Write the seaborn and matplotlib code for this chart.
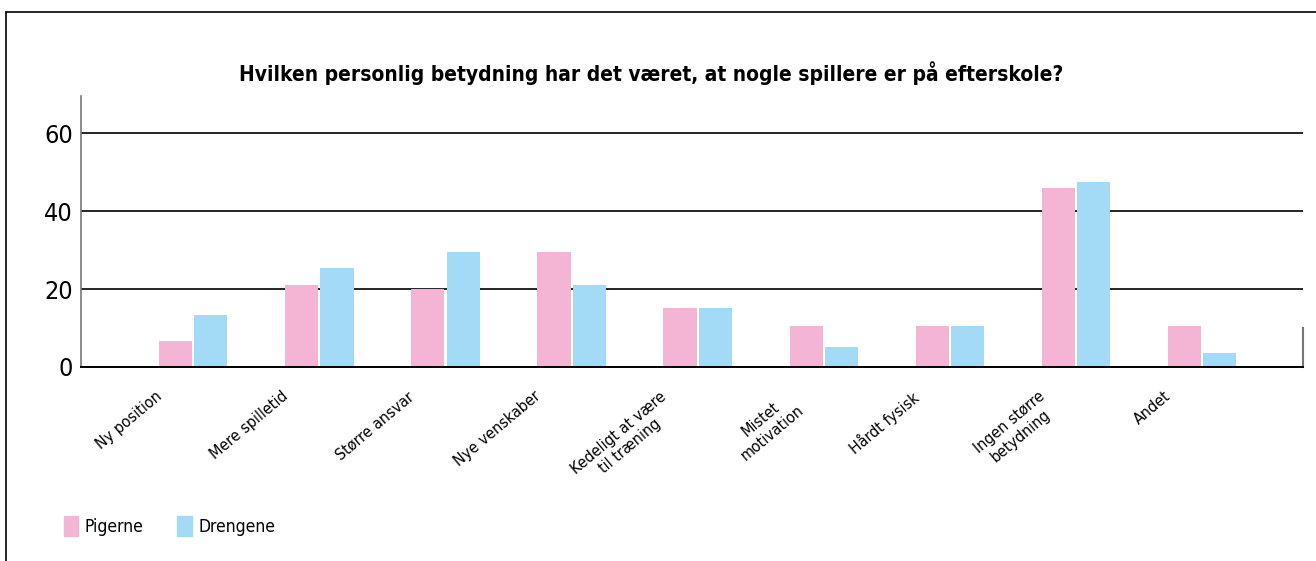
import numpy as np
import pandas as pd
import matplotlib.pyplot as plt
import matplotlib.transforms as mtransforms
from matplotlib.lines import Line2D
import seaborn as sns

categories = ["Ny position", "Mere spilletid", "Større ansvar", "Nye venskaber",
              "Kedeligt at være\ntil træning", "Mistet\nmotivation", "Hårdt fysisk",
              "Ingen større\nbetydning", "Andet"]
pigerne = [6.7, 21.1, 20.0, 29.6, 15.2, 10.6, 10.6, 46.1, 10.6]
drengene = [13.4, 25.5, 29.6, 21.1, 15.2, 5.2, 10.6, 47.6, 3.7]
groups = ["Pigerne", "Drengene"]
colors = ["#F4B5D5", "#A3DAF6"]
yticks = [0, 20, 40, 60]

df = pd.DataFrame({
    "kategori": categories * 2,
    "gruppe": [groups[0]] * len(categories) + [groups[1]] * len(categories),
    "procent": pigerne + drengene,
})

sns.set_style("white")
plt.rcParams["font.family"] = ["DejaVu Sans"]
plt.rcParams["font.stretch"] = "condensed"
plt.rcParams["text.color"] = "black"
plt.rcParams["xtick.color"] = "black"
plt.rcParams["ytick.color"] = "black"

fig = plt.figure(figsize=(13.16, 5.61), dpi=100)
ax = fig.add_axes([81 / 1316, 1 - 367 / 561, (1303 - 81) / 1316, (367 - 96) / 561])

sns.barplot(data=df, x="kategori", y="procent", hue="gruppe", order=categories,
            hue_order=groups, palette=colors, width=0.56, gap=0.06,
            saturation=1, linewidth=0, ax=ax, legend=True)

ax.set_xlim(-0.89, 8.8)
ax.set_ylim(0, 69.6)
ax.set_yticks(yticks)
ax.set_xlabel("")
ax.set_ylabel("")
ax.yaxis.grid(True, color="black", linewidth=1.2)
ax.set_axisbelow(True)
ax.tick_params(axis="y", length=0, labelsize=18, pad=6)
ax.tick_params(axis="x", length=0, labelsize=11.5)

ax.spines["top"].set_visible(False)
ax.spines["left"].set_color("#777777")
ax.spines["left"].set_linewidth(1.2)
ax.spines["bottom"].set_color("black")
ax.spines["bottom"].set_linewidth(1.4)
ax.spines["right"].set_color("#777777")
ax.spines["right"].set_linewidth(1.5)
ax.spines["right"].set_bounds(0, 10)

# shift the rotated labels so they hang below-left of each group
offset = mtransforms.ScaledTranslation(-38 / 100, -17 / 100, fig.dpi_scale_trans)
for lab in ax.get_xticklabels():
    lab.set_rotation(40)
    lab.set_ha("right")
    lab.set_rotation_mode("anchor")
    lab.set_multialignment("center")
    lab.set_transform(lab.get_transform() + offset)

ax.legend_.remove()
handles = [plt.Rectangle((0, 0), 1, 1, color=c) for c in colors]
fig.legend(handles, groups, loc="center left", bbox_to_anchor=(48 / 1316, 1 - 526 / 561),
           ncol=2, frameon=False, fontsize=12.5, handlelength=0.85, handleheight=1.4,
           handletextpad=0.35, columnspacing=1.95)

fig.text(651 / 1316, 1 - 73 / 561,
         "Hvilken personlig betydning har det været, at nogle spillere er på efterskole?",
         ha="center", va="center", fontsize=15, fontweight="bold")

# outer frame (top and left edges only)
fig.add_artist(Line2D([6 / 1316, 1], [1 - 12 / 561, 1 - 12 / 561], color="black", linewidth=1.2))
fig.add_artist(Line2D([6 / 1316, 6 / 1316], [0, 1 - 12 / 561], color="black", linewidth=1.2))

fig.savefig("out.png", dpi=100)
